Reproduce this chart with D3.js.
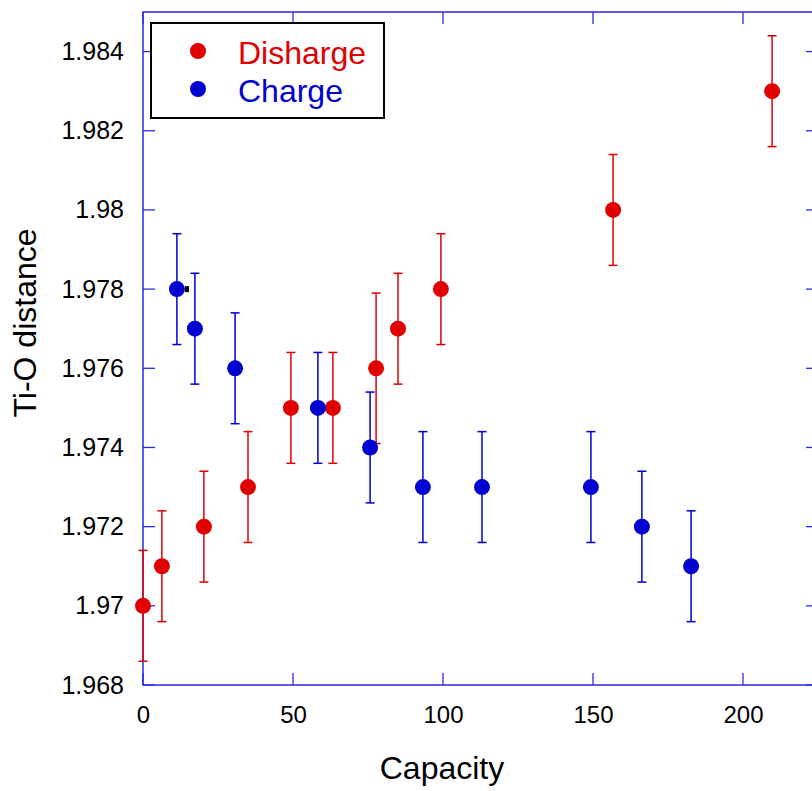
<!DOCTYPE html>
<html>
<head>
<meta charset="utf-8">
<script src="https://cdn.jsdelivr.net/npm/d3@7"></script>
<style>
body { margin: 0; background: #fff; }
text { font-family: "Liberation Sans", Arial, sans-serif; }
</style>
</head>
<body>
<div id="chart"></div>
<script>
// Discharge series
const dischargeX = [0, 6.3, 20.3, 35, 49.3, 63.3, 77.7, 85, 99.3, 156.7, 209.7];
const dischargeY = [1.970, 1.971, 1.972, 1.973, 1.975, 1.975, 1.976, 1.977, 1.978, 1.980, 1.983];
const dischargeErr = [0.0014, 0.0014, 0.0014, 0.0014, 0.0014, 0.0014, 0.0019, 0.0014, 0.0014, 0.0014, 0.0014];

// Charge series
const chargeX = [11.3, 17.3, 30.7, 58.3, 75.7, 93.3, 113, 149.3, 166.3, 182.7];
const chargeY = [1.978, 1.977, 1.976, 1.975, 1.974, 1.973, 1.973, 1.973, 1.972, 1.971];
const chargeErr = [0.0014, 0.0014, 0.0014, 0.0014, 0.0014, 0.0014, 0.0014, 0.0014, 0.0014, 0.0014];

const xTicks = [0, 50, 100, 150, 200];
const yTicks = [1.968, 1.970, 1.972, 1.974, 1.976, 1.978, 1.980, 1.982, 1.984];
const legendLabels = ["Disharge", "Charge"];

const width = 812, height = 791;
const margin = {top: 12, left: 143};
const plotW = 675, plotH = 673;

const red = "#e00000", blue = "#0000d0", axisBlue = "#2a2ae6";

const svg = d3.select("#chart").append("svg")
    .attr("width", width)
    .attr("height", height);

const g = svg.append("g")
    .attr("transform", `translate(${margin.left}, ${margin.top})`);

const x = d3.scaleLinear().domain([0, 225]).range([0, plotW]);
const y = d3.scaleLinear().domain([1.968, 1.985]).range([plotH, 0]);

// tick labels (ticks themselves drawn inward below)
g.append("g")
    .attr("transform", `translate(0, ${plotH})`)
    .call(d3.axisBottom(x).tickValues(xTicks).tickSize(0).tickPadding(21).tickFormat(d3.format("d")))
    .call(ax => ax.select(".domain").remove())
    .selectAll("text").attr("font-size", "24px").attr("fill", "#000");

g.append("g")
    .call(d3.axisLeft(y).tickValues(yTicks).tickSize(0).tickPadding(19).tickFormat(d => String(+d.toFixed(3))))
    .call(ax => ax.select(".domain").remove())
    .selectAll("text").attr("font-size", "25px").attr("fill", "#000");

const tickLen = 12;
const tickG = g.append("g").attr("stroke", axisBlue).attr("stroke-width", 1.3);
xTicks.forEach(t => {
    tickG.append("line").attr("x1", x(t)).attr("x2", x(t)).attr("y1", plotH).attr("y2", plotH - tickLen);
    tickG.append("line").attr("x1", x(t)).attr("x2", x(t)).attr("y1", 0).attr("y2", tickLen);
});
yTicks.forEach(t => {
    tickG.append("line").attr("x1", 0).attr("x2", tickLen).attr("y1", y(t)).attr("y2", y(t));
    tickG.append("line").attr("x1", plotW).attr("x2", plotW - tickLen).attr("y1", y(t)).attr("y2", y(t));
});

g.append("rect")
    .attr("x", 0).attr("y", 0)
    .attr("width", plotW).attr("height", plotH)
    .attr("fill", "none")
    .attr("stroke", axisBlue)
    .attr("stroke-width", 1.5);

// Error bars + points
function drawSeries(xs, ys, errs, color) {
    const data = xs.map((v, i) => ({x: v, y: ys[i], e: errs[i]}));
    const eg = g.append("g").attr("stroke", color).attr("stroke-width", 1.5);
    data.forEach(d => {
        eg.append("line").attr("x1", x(d.x)).attr("x2", x(d.x)).attr("y1", y(d.y - d.e)).attr("y2", y(d.y + d.e));
        eg.append("line").attr("x1", x(d.x) - 4.5).attr("x2", x(d.x) + 4.5).attr("y1", y(d.y - d.e)).attr("y2", y(d.y - d.e));
        eg.append("line").attr("x1", x(d.x) - 4.5).attr("x2", x(d.x) + 4.5).attr("y1", y(d.y + d.e)).attr("y2", y(d.y + d.e));
    });
    g.append("g").selectAll("circle")
        .data(data)
        .enter().append("circle")
        .attr("cx", d => x(d.x))
        .attr("cy", d => y(d.y))
        .attr("r", 8)
        .attr("fill", color);
}
drawSeries(dischargeX, dischargeY, dischargeErr, red);
drawSeries(chargeX, chargeY, chargeErr, blue);

// small black mark beside first charge point
g.append("rect")
    .attr("x", x(chargeX[0]) + 8).attr("y", y(chargeY[0]) - 3)
    .attr("width", 4).attr("height", 6)
    .attr("fill", "#000");

// Axis labels
svg.append("text")
    .attr("x", 442).attr("y", 779)
    .attr("text-anchor", "middle")
    .attr("font-size", "32px")
    .text("Capacity");

svg.append("text")
    .attr("transform", "translate(36, 323) rotate(-90)")
    .attr("text-anchor", "middle")
    .attr("font-size", "32px")
    .text("Ti-O distance");

// Legend
const lg = svg.append("g");
lg.append("rect")
    .attr("x", 151).attr("y", 23)
    .attr("width", 233).attr("height", 95)
    .attr("fill", "#fff")
    .attr("stroke", "#000")
    .attr("stroke-width", 2);
[red, blue].forEach((c, i) => {
    lg.append("circle").attr("cx", 198).attr("cy", 51 + i * 38).attr("r", 8).attr("fill", c);
    lg.append("text")
        .attr("x", 238).attr("y", 64 + i * 38)
        .attr("font-size", "32px")
        .attr("fill", c)
        .text(legendLabels[i]);
});
</script>
</body>
</html>
